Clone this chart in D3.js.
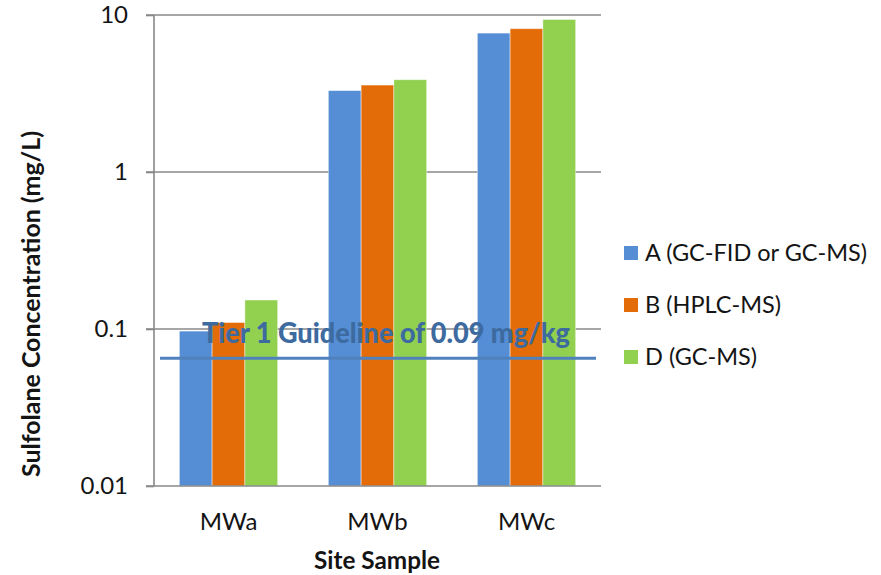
<!DOCTYPE html>
<html>
<head>
<meta charset="utf-8">
<script src="https://cdn.jsdelivr.net/npm/d3@7"></script>
<style>
  html, body { margin: 0; padding: 0; background: #fff; }
  svg { display: block; font-family: Lato, "Open Sans", sans-serif; }
</style>
</head>
<body>
<svg id="chart" width="881" height="575"></svg>
<script>
// ---- data ----
const categories = ["MWa", "MWb", "MWc"];
const seriesNames = ["A (GC-FID or GC-MS)", "B (HPLC-MS)", "D (GC-MS)"];
const seriesA = [0.097, 3.30, 7.67];
const seriesB = [0.110, 3.58, 8.18];
const seriesD = [0.153, 3.87, 9.37];
const yTicks = [0.01, 0.1, 1, 10];
const yTickLabels = ["0.01", "0.1", "1", "10"];
const guidelineValue = 0.065;
const guidelineLabel = "Tier 1 Guideline of 0.09 mg/kg";
const xTitle = "Site Sample";
const yTitle = "Sulfolane Concentration (mg/L)";
const colors = ["#558ed5", "#e36c09", "#92d050"];

const seriesValues = [seriesA, seriesB, seriesD];

const svg = d3.select("#chart");
const plot = { left: 154, right: 601, top: 15, bottom: 486 };

const x0 = d3.scaleBand().domain(categories).range([plot.left, plot.right]).padding(0);
const groupFrac = 0.66;
const x1 = d3.scaleBand().domain(d3.range(seriesNames.length))
  .range([0, x0.bandwidth() * groupFrac]).padding(0);
const y = d3.scaleLog().domain([0.01, 10]).range([plot.bottom, plot.top]);

const gray = "#888888";
const textColor = "#141414";

// gridlines
svg.append("g").selectAll("line")
  .data(yTicks.filter(t => t !== 0.01))
  .join("line")
  .attr("x1", plot.left - 8).attr("x2", plot.right)
  .attr("y1", d => y(d)).attr("y2", d => y(d))
  .attr("stroke", gray).attr("stroke-width", 1.6);

// bars
const rows = [];
categories.forEach((c, ci) => {
  seriesValues.forEach((s, si) => rows.push({ cat: c, si, v: s[ci] }));
});
const groupOffset = (x0.bandwidth() - x0.bandwidth() * groupFrac) / 2;
svg.append("g").selectAll("rect")
  .data(rows)
  .join("rect")
  .attr("x", d => x0(d.cat) + groupOffset + x1(d.si))
  .attr("width", x1.bandwidth())
  .attr("y", d => y(d.v))
  .attr("height", d => y(0.01) - y(d.v))
  .attr("fill", d => colors[d.si])
  .attr("stroke", "rgba(255,255,255,0.55)")
  .attr("stroke-width", 0.8);

// y axis
const yAxis = d3.axisLeft(y).tickValues(yTicks)
  .tickFormat((d, i) => yTickLabels[i]).tickSize(8).tickPadding(18);
const gy = svg.append("g").attr("transform", `translate(${plot.left},0)`).call(yAxis);
gy.select(".domain").remove();
gy.append("line").attr("x1", 0).attr("x2", 0).attr("y1", plot.top).attr("y2", plot.bottom)
  .attr("stroke", gray).attr("stroke-width", 1.6);
gy.selectAll(".tick line").attr("stroke", gray).attr("stroke-width", 1.6);
gy.selectAll(".tick text").attr("font-size", 24).attr("fill", textColor)
  .attr("font-family", "Lato, sans-serif");

// x axis
const xAxis = d3.axisBottom(x0).tickSize(0).tickPadding(27);
const gx = svg.append("g").attr("transform", `translate(0,${plot.bottom})`).call(xAxis);
gx.select(".domain").remove();
gx.append("line").attr("x1", plot.left - 8).attr("x2", plot.right).attr("y1", 0).attr("y2", 0)
  .attr("stroke", gray).attr("stroke-width", 1.6);
gx.selectAll(".tick text").attr("font-size", 24).attr("fill", textColor)
  .attr("font-family", "Lato, sans-serif");

// guideline
svg.append("line")
  .attr("x1", plot.left + 6).attr("x2", plot.right - 5)
  .attr("y1", y(guidelineValue)).attr("y2", y(guidelineValue))
  .attr("stroke", "#4f81bd").attr("stroke-width", 3);
svg.append("text")
  .attr("x", 386).attr("y", 343)
  .attr("text-anchor", "middle")
  .attr("font-size", 29).attr("font-weight", 900)
  .attr("fill", "#3d6a9f")
  .attr("textLength", 368).attr("lengthAdjust", "spacingAndGlyphs")
  .text(guidelineLabel);

// axis titles
svg.append("text")
  .attr("x", 377).attr("y", 569)
  .attr("text-anchor", "middle")
  .attr("font-size", 25).attr("font-weight", "bold").attr("fill", textColor)
  .attr("textLength", 126).attr("lengthAdjust", "spacingAndGlyphs")
  .text(xTitle);
svg.append("text")
  .attr("transform", "translate(40,304) rotate(-90)")
  .attr("text-anchor", "middle")
  .attr("font-size", 25).attr("font-weight", "bold").attr("fill", textColor)
  .attr("textLength", 346).attr("lengthAdjust", "spacingAndGlyphs")
  .text(yTitle);

// legend
const legend = svg.append("g").selectAll("g")
  .data(seriesNames)
  .join("g")
  .attr("transform", (d, i) => `translate(624,${253 + i * 52})`);
legend.append("rect")
  .attr("x", 0).attr("y", -7).attr("width", 14).attr("height", 14)
  .attr("fill", (d, i) => colors[i]);
legend.append("text")
  .attr("x", 21).attr("y", 0).attr("dy", "0.35em")
  .attr("font-size", 23.5).attr("fill", textColor)
  .text(d => d);
</script>
</body>
</html>
